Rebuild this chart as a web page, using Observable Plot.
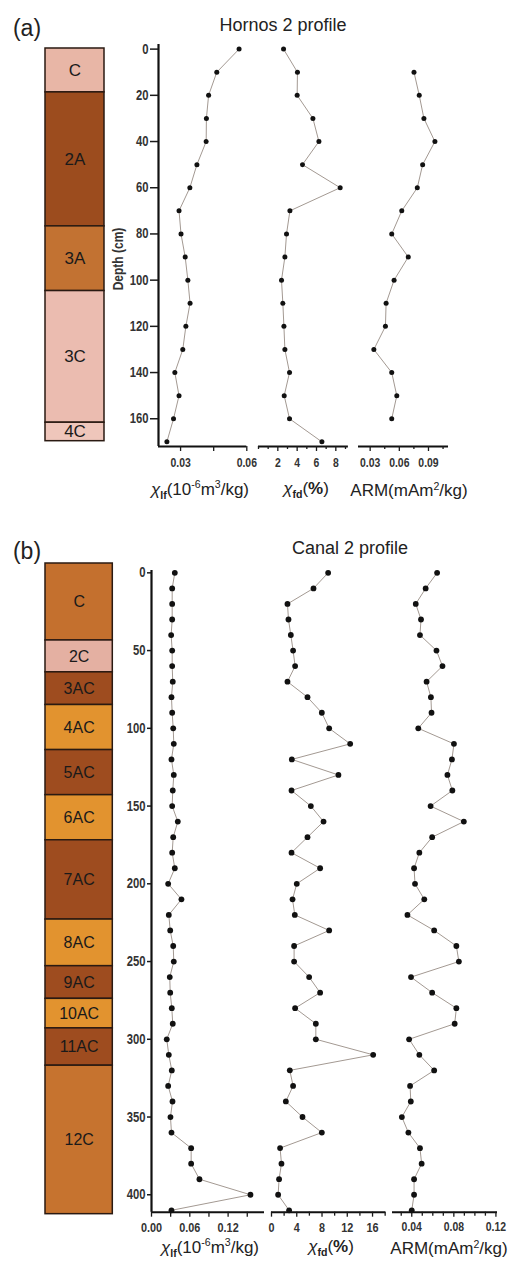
<!DOCTYPE html>
<html><head><meta charset="utf-8">
<script src="https://cdn.jsdelivr.net/npm/d3@7"></script>
<script src="https://cdn.jsdelivr.net/npm/@observablehq/plot@0.6"></script>
<style>
body{margin:0;background:#fff;}
#root{position:relative;width:509px;height:1268px;overflow:hidden;background:#fff;font-family:"Liberation Sans",Arial,sans-serif;color:#222;}
.lbl{position:absolute;white-space:nowrap;transform:translate(-50%,-50%);line-height:1;}
.lbl sub,.lbl sup{font-size:62%;}
svg{overflow:visible;}
</style></head><body><div id="root"></div>
<script>
// ---------- Panel (a): Hornos 2 profile ----------
const depthA = [0,10,20,30,40,50,60,70,80,90,100,110,120,130,140,150,160,170];
const chiLfA = [0.0565,0.0464,0.0427,0.0417,0.0416,0.0374,0.0342,0.0293,0.0302,0.0321,0.0333,0.0343,0.0324,0.0310,0.0274,0.0293,0.0268,0.0238];
const chiFdA = [2.59,4.03,4.0,5.63,6.25,4.55,8.45,3.25,2.90,2.73,2.38,2.52,2.63,2.73,3.21,2.66,3.21,6.56];
const armDepthA = [10,20,30,40,50,60,70,80,90,100,110,120,130,140,150,160];
const armA = [0.0751,0.0805,0.0853,0.0966,0.0840,0.0785,0.0625,0.0522,0.0692,0.0546,0.0464,0.0457,0.0338,0.0522,0.0574,0.0522];
const layerNamesA = ["C","2A","3A","3C","4C"];
const layerTopA = [0,19,77,105,162];
const layerBottomA = [19,77,105,162,170];
const layerColorsA = ["#e8b6a6","#9c4c1e","#c27232","#ebbcb0","#efc6bb"];
const depthTicksA = [0,20,40,60,80,100,120,140,160];

// ---------- Panel (b): Canal 2 profile ----------
const depthB = [0,10,20,30,40,50,60,70,80,90,100,110,120,130,140,150,160,170,180,190,200,210,220,230,240,250,260,270,280,290,300,310,320,330,340,350,360,370,380,390,400,410];
const chiLfB = [0.0365,0.0324,0.0324,0.0324,0.0308,0.0324,0.0324,0.0333,0.0313,0.0324,0.0340,0.0349,0.0313,0.0349,0.0333,0.0324,0.0412,0.0340,0.0324,0.0365,0.0261,0.0469,0.0271,0.0293,0.0340,0.0349,0.0286,0.0293,0.0318,0.0333,0.0239,0.0271,0.0318,0.0261,0.0329,0.0297,0.0313,0.0621,0.0621,0.0751,0.155,0.0313];
const chiFdB = [8.97,6.65,2.53,2.69,3.06,3.42,3.74,2.53,5.70,7.97,9.13,12.46,3.22,10.6,3.17,6.23,8.24,5.70,3.17,7.70,4.0,3.33,3.69,9.13,3.58,3.58,5.96,7.70,3.74,7.02,7.02,16.1,2.90,3.42,2.27,4.91,7.97,1.36,1.58,1.20,1.05,2.79];
const armB = [0.0641,0.0532,0.0438,0.0488,0.0478,0.0635,0.0692,0.0541,0.0582,0.0588,0.0462,0.0801,0.0782,0.0739,0.0786,0.0579,0.0895,0.0594,0.0472,0.0422,0.0431,0.0519,0.0359,0.0613,0.0824,0.0848,0.0393,0.0594,0.0824,0.0808,0.0375,0.0472,0.0613,0.0384,0.0391,0.0306,0.0368,0.0478,0.0494,0.0422,0.0422,0.0400];
const layerNamesB = ["C","2C","3AC","4AC","5AC","6AC","7AC","8AC","9AC","10AC","11AC","12C"];
const layerTopB = [-6,43.5,64,85,114,143,172,223,253,274,293,317];
const layerBottomB = [43.5,64,85,114,143,172,223,253,274,293,317,412.5];
const layerColorsB = ["#c4702e","#e4b0a2","#9e4c1f","#e2932f","#9e4c1f","#e2932f","#9e4c1f","#e2932f","#9e4c1f","#e2932f","#9e4c1f","#c6732f"];
const depthTicksB = [0,50,100,150,200,250,300,350,400];

const root = document.getElementById("root");
const NARROW = '"Liberation Sans",Arial,sans-serif';
const SQUEEZE = 0.78;
const glyphW = ch => ch === "." ? 0.278 : ch === "-" ? 0.333 : 0.556;

// squeeze tick labels horizontally (condensed look) via textLength
function condense(svg) {
  svg.querySelectorAll('g[aria-label$="tick label"]').forEach(g => {
    const fs = parseFloat(g.getAttribute("font-size")) || 13;
    g.querySelectorAll("text").forEach(t => {
      const s = t.textContent;
      if (!s) return;
      const w = [...s].reduce((a, ch) => a + glyphW(ch), 0) * fs * 1.03 * SQUEEZE;
      t.setAttribute("textLength", w.toFixed(1));
      t.setAttribute("lengthAdjust", "spacingAndGlyphs");
    });
  });
}

function place(opts, fr, m) {
  const w = fr.x1 - fr.x0 + m[1] + m[3];
  const h = fr.y1 - fr.y0 + m[0] + m[2];
  const svg = Plot.plot({
    ...opts, width: w, height: h,
    marginTop: m[0], marginRight: m[1], marginBottom: m[2], marginLeft: m[3],
    style: {background: "transparent", fontFamily: NARROW, fontWeight: "bold", color: "#1a1a1a", overflow: "visible"}
  });
  condense(svg);
  svg.style.position = "absolute";
  svg.style.left = (fr.x0 - m[3]) + "px";
  svg.style.top = (fr.y0 - m[0]) + "px";
  root.appendChild(svg);
}

function profile(c) {
  const data = c.depth.map((d, i) => ({depth: d, v: c.values[i]}));
  const marks = [
    Plot.ruleY([c.yDomain[1]], {stroke: "#111", strokeWidth: 2}),
    Plot.axisX({ticks: c.minor, tickSize: c.minorSize, tickFormat: () => "", label: null, strokeWidth: 1.3}),
    Plot.axisX({ticks: c.major, tickSize: c.majorSize, tickPadding: c.pad, tickFormat: c.fmt, label: null,
      fontSize: c.fontSize, fontWeight: "bold", fill: "#333", strokeWidth: 1.3}),
    Plot.line(data, {x: "v", y: "depth", stroke: "#a39992", strokeWidth: 1}),
    Plot.dot(data, {x: "v", y: "depth", r: c.r, fill: "#111", stroke: "none"})
  ];
  if (c.yTicks) {
    marks.push(Plot.ruleX([c.xDomain[0]], {stroke: "#111", strokeWidth: 2.2}));
    marks.push(Plot.axisY({ticks: c.yTicks, tickSize: c.ySize, tickPadding: c.yPad, label: null,
      fontSize: c.yFont, fontWeight: "bold", fill: "#333", strokeWidth: 1.5}));
  }
  place({
    x: {domain: c.xDomain, label: null},
    y: {domain: c.yDomain, reverse: true, label: null, axis: c.yTicks ? undefined : null},
    marks
  }, c.frame, [4, 6, 30, 40]);
}

function column(c) {
  const data = c.names.map((n, i) => ({name: n, top: c.tops[i], bottom: c.bottoms[i], color: c.colors[i]}));
  place({
    x: {domain: [0, 1], axis: null},
    y: {domain: c.yDomain, reverse: true, axis: null},
    color: {type: "identity"},
    marks: [
      Plot.rect(data, {x1: 0, x2: 1, y1: "top", y2: "bottom", fill: "color", stroke: "#2a1a12", strokeWidth: 1.5}),
      Plot.text(data, {x: 0.5, y: d => (d.top + d.bottom) / 2, text: "name", fontSize: c.fontSize,
        fontWeight: "normal", fontFamily: '"Liberation Sans",Arial,sans-serif', fill: "#1a1a1a"})
    ]
  }, c.frame, [2, 2, 2, 2]);
}

function label(html, cx, cy, style) {
  const d = document.createElement("div");
  d.className = "lbl";
  d.innerHTML = html;
  d.style.left = cx + "px";
  d.style.top = cy + "px";
  Object.assign(d.style, style || {});
  root.appendChild(d);
}

const f2 = d3.format(".2f");
const yDomA = [-2, 172];
const yTopA = 43.7, yBotA = 445.7;

column({names: layerNamesA, tops: layerTopA, bottoms: layerBottomA, colors: layerColorsA,
  yDomain: [0, 170], frame: {x0: 45, x1: 104, y0: 48.3, y1: 441}, fontSize: 17});

profile({depth: depthA, values: chiLfA, xDomain: [0.02, 0.06], yDomain: yDomA,
  frame: {x0: 157.7, x1: 246, y0: yTopA, y1: yBotA},
  major: [0.03, 0.06], minor: [0.045], majorSize: 5, minorSize: 5, pad: 6, fmt: f2, fontSize: 13, r: 2.5,
  yTicks: depthTicksA, ySize: 8, yPad: 2, yFont: 14});
profile({depth: depthA, values: chiFdA, xDomain: [0, 9.3], yDomain: yDomA,
  frame: {x0: 258.3, x1: 348.2, y0: yTopA, y1: yBotA},
  major: [2, 4, 6, 8], minor: [0, 1, 3, 5, 7, 9], majorSize: 5, minorSize: 3, pad: 6, fmt: d3.format("d"), fontSize: 13, r: 2.5});
profile({depth: armDepthA, values: armA, xDomain: [0.018, 0.1106], yDomain: yDomA,
  frame: {x0: 358.3, x1: 448.3, y0: yTopA, y1: yBotA},
  major: [0.03, 0.06, 0.09], minor: [0.045, 0.075, 0.105], majorSize: 5, minorSize: 3, pad: 6, fmt: f2, fontSize: 13, r: 2.5});

const yDomB = [-1.5, 411.2];
const yTopB = 570, yBotB = 1211.7;
column({names: layerNamesB, tops: layerTopB, bottoms: layerBottomB, colors: layerColorsB,
  yDomain: [-6, 412.5], frame: {x0: 45, x1: 112.3, y0: 563, y1: 1213.7}, fontSize: 16});

profile({depth: depthB, values: chiLfB, xDomain: [0, 0.177], yDomain: yDomB,
  frame: {x0: 151, x1: 264, y0: yTopB, y1: yBotB},
  major: [0, 0.06, 0.12], minor: [0.03, 0.09, 0.15], majorSize: 5, minorSize: 5, pad: 5, fmt: f2, fontSize: 13.5, r: 2.9,
  yTicks: depthTicksB, ySize: 4, yPad: 2, yFont: 14});
profile({depth: depthB, values: chiFdB, xDomain: [0, 18.1], yDomain: yDomB,
  frame: {x0: 270.7, x1: 385, y0: yTopB, y1: yBotB},
  major: [0, 4, 8, 12, 16], minor: [2, 6, 10, 14, 18], majorSize: 5, minorSize: 4, pad: 5, fmt: d3.format("d"), fontSize: 13.5, r: 2.9});
profile({depth: depthB, values: armB, xDomain: [0.0217, 0.1215], yDomain: yDomB,
  frame: {x0: 392.3, x1: 497.3, y0: yTopB, y1: yBotB},
  major: [0.04, 0.08, 0.12], minor: [0.03, 0.05, 0.06, 0.07, 0.09, 0.10, 0.11], majorSize: 5, minorSize: 4, pad: 5, fmt: f2, fontSize: 13, r: 2.9});

// ---------- text ----------
label("(a)", 27, 28, {fontSize: "23px"});
label("Hornos 2 profile", 283, 25, {fontSize: "18px"});
label("(b)", 27, 551, {fontSize: "23px"});
label("Canal 2 profile", 350, 548, {fontSize: "18px"});
label("Depth (cm)", 117, 259, {fontSize: "15px", fontWeight: "bold", transform: "translate(-50%,-50%) rotate(-90deg) scale(0.8,1)", color: "#333"});

const tLf = '<i>χ</i><sub><b>lf</b></sub>(10<sup>-6</sup>m<sup>3</sup>/kg)';
const tFd = '<i>χ</i><sub><b>fd</b></sub>(<b>%</b>)';
const tArm = 'ARM(mAm<sup>2</sup>/kg)';
label(tLf, 200, 490, {fontSize: "17px"});
label(tFd, 306, 490, {fontSize: "17px"});
label(tArm, 409, 490, {fontSize: "17px"});
label(tLf, 210, 1248, {fontSize: "17px"});
label(tFd, 331, 1248, {fontSize: "17px"});
label(tArm, 449, 1248, {fontSize: "17px"});
</script></body></html>
